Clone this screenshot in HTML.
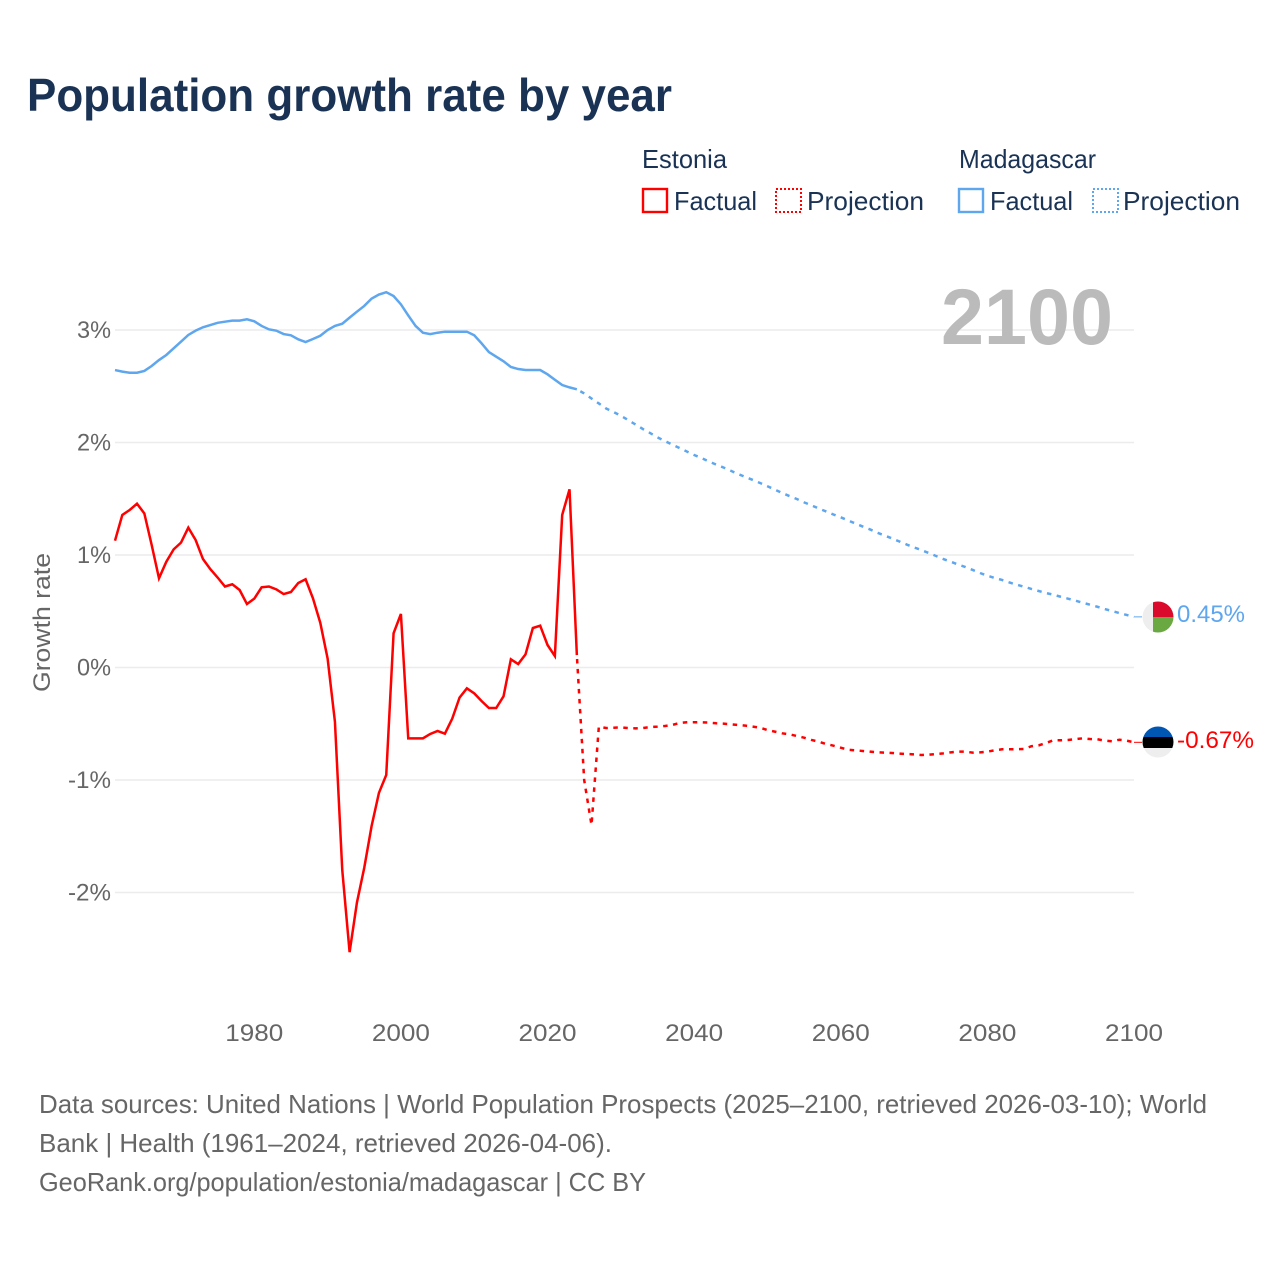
<!DOCTYPE html>
<html lang="en">
<head>
<meta charset="utf-8">
<title>Population growth rate by year</title>
<style>
html,body{margin:0;padding:0;background:#fff;}
svg{display:block;font-family:"Liberation Sans",sans-serif;}
</style>
</head>
<body>
<svg id="chart" xmlns="http://www.w3.org/2000/svg" width="1280" height="1280" viewBox="0 0 1280 1280">
  <defs>
    <clipPath id="flag-clip-mg"><circle cx="1158" cy="617" r="15.5"/></clipPath>
    <clipPath id="flag-clip-ee"><circle cx="1158" cy="742" r="15.5"/></clipPath>
  </defs>
  <rect x="0" y="0" width="1280" height="1280" fill="#fff"/>
  <text x="27" y="111" font-size="46" font-weight="700" fill="#1a3355" textLength="645" lengthAdjust="spacingAndGlyphs">Population growth rate by year</text>

  <g font-size="26" fill="#1a3355">
    <text x="642" y="168" textLength="85" lengthAdjust="spacingAndGlyphs">Estonia</text>
    <rect x="643" y="189" width="24" height="23" fill="none" stroke="#ff0000" stroke-width="2.4"/>
    <text x="674" y="210" textLength="83" lengthAdjust="spacingAndGlyphs">Factual</text>
    <rect x="776" y="189" width="25" height="23" fill="none" stroke="#ff0000" stroke-width="2" stroke-dasharray="2 2"/>
    <text x="807" y="210" textLength="117" lengthAdjust="spacingAndGlyphs">Projection</text>
    <text x="959" y="168" textLength="137" lengthAdjust="spacingAndGlyphs">Madagascar</text>
    <rect x="959" y="189" width="24" height="23" fill="none" stroke="#5ea6ee" stroke-width="2.4"/>
    <text x="990" y="210" textLength="83" lengthAdjust="spacingAndGlyphs">Factual</text>
    <rect x="1093" y="189" width="25" height="23" fill="none" stroke="#5ea6ee" stroke-width="2" stroke-dasharray="2 2"/>
    <text x="1123" y="210" textLength="117" lengthAdjust="spacingAndGlyphs">Projection</text>
  </g>

  <g id="grid"></g>
  <g id="y-ticks" font-size="24" fill="#666" text-anchor="end"></g>
  <g id="x-ticks" font-size="24" fill="#666" text-anchor="middle"></g>

  <text transform="translate(50,692) rotate(-90)" font-size="24" fill="#666" textLength="139" lengthAdjust="spacingAndGlyphs">Growth rate</text>

  <text x="941" y="344" font-size="79" font-weight="700" fill="#bbbbbb" textLength="172" lengthAdjust="spacingAndGlyphs">2100</text>

  <g id="series"></g>

  <g clip-path="url(#flag-clip-mg)">
    <rect x="1142" y="601" width="16" height="32" fill="#eeeeee"/>
    <rect x="1153" y="601" width="21" height="16" fill="#d90a2c"/>
    <rect x="1153" y="617" width="21" height="16" fill="#6aa842"/>
  </g>
  <g clip-path="url(#flag-clip-ee)">
    <rect x="1142" y="726" width="32" height="11" fill="#0056b3"/>
    <rect x="1142" y="737" width="32" height="11" fill="#000000"/>
    <rect x="1142" y="748" width="32" height="11" fill="#eeeeee"/>
  </g>

  <text x="1177" y="622" font-size="24" fill="#5ea6ee" textLength="68" lengthAdjust="spacingAndGlyphs">0.45%</text>
  <text x="1177" y="748" font-size="24" fill="#ff0000" textLength="77" lengthAdjust="spacingAndGlyphs">-0.67%</text>

  <g font-size="26" fill="#666">
    <text x="39" y="1113" textLength="1168" lengthAdjust="spacingAndGlyphs">Data sources: United Nations | World Population Prospects (2025–2100, retrieved 2026-03-10); World</text>
    <text x="39" y="1152" textLength="573" lengthAdjust="spacingAndGlyphs">Bank | Health (1961–2024, retrieved 2026-04-06).</text>
    <text x="39" y="1191" textLength="607" lengthAdjust="spacingAndGlyphs">GeoRank.org/population/estonia/madagascar | CC BY</text>
  </g>
</svg>

<script>
const yTickValues = [3, 2, 1, 0, -1, -2];
const yTickLabels = ["3%", "2%", "1%", "0%", "-1%", "-2%"];
const xTickYears = [1980, 2000, 2020, 2040, 2060, 2080, 2100];
const xTickLabels = ["1980", "2000", "2020", "2040", "2060", "2080", "2100"];

const factualStartYear = 1961;
const projectionStartYear = 2024;

const estoniaFactual = [
  1.127, 1.356, 1.40, 1.456, 1.37, 1.09, 0.793, 0.94, 1.05, 1.11,
  1.243, 1.133, 0.964, 0.875, 0.80, 0.72, 0.74, 0.689, 0.564, 0.612,
  0.713, 0.72, 0.695, 0.653, 0.671, 0.751, 0.784, 0.615, 0.398, 0.08,
  -0.482, -1.8, -2.53, -2.09, -1.78, -1.41, -1.115, -0.955, 0.304, 0.476,
  -0.63, -0.63, -0.63, -0.591, -0.564, -0.588, -0.455, -0.268, -0.185, -0.23,
  -0.298, -0.36, -0.36, -0.256, 0.073, 0.031, 0.117, 0.351, 0.372, 0.2,
  0.102, 1.356, 1.584, 0.111
];
const estoniaProjection = [
  0.111, -1.0, -1.4, -0.526, -0.538, -0.535, -0.532, -0.538, -0.541, -0.538,
  -0.529, -0.526, -0.52, -0.511, -0.493, -0.487, -0.487, -0.487, -0.49, -0.496,
  -0.499, -0.505, -0.511, -0.517, -0.526, -0.535, -0.556, -0.57, -0.585, -0.594,
  -0.609, -0.624, -0.644, -0.659, -0.68, -0.695, -0.713, -0.731, -0.736, -0.742,
  -0.748, -0.754, -0.757, -0.76, -0.766, -0.769, -0.772, -0.778, -0.775, -0.769,
  -0.763, -0.754, -0.748, -0.748, -0.757, -0.754, -0.748, -0.736, -0.727, -0.727,
  -0.727, -0.724, -0.70, -0.692, -0.671, -0.647, -0.647, -0.644, -0.636, -0.63,
  -0.636, -0.638, -0.65, -0.656, -0.642, -0.65, -0.665
];
const madagascarFactual = [
  2.644, 2.63, 2.62, 2.62, 2.636, 2.68, 2.733, 2.778, 2.837, 2.896,
  2.956, 2.994, 3.024, 3.044, 3.064, 3.074, 3.083, 3.083, 3.095, 3.077,
  3.036, 3.006, 2.994, 2.964, 2.953, 2.917, 2.893, 2.92, 2.949, 3.0,
  3.036, 3.056, 3.11, 3.163, 3.214, 3.279, 3.315, 3.336, 3.302, 3.228,
  3.13, 3.036, 2.976, 2.964, 2.976, 2.985, 2.985, 2.985, 2.985, 2.953,
  2.882, 2.804, 2.763, 2.722, 2.671, 2.653, 2.644, 2.644, 2.644, 2.606,
  2.558, 2.511, 2.49, 2.473
];
const madagascarProjection = [
  2.473, 2.436, 2.391, 2.347, 2.302, 2.271, 2.238, 2.20, 2.16, 2.12,
  2.084, 2.046, 2.013, 1.982, 1.951, 1.92, 1.889, 1.862, 1.831, 1.804,
  1.778, 1.749, 1.72, 1.693, 1.667, 1.64, 1.611, 1.582, 1.551, 1.524,
  1.498, 1.468, 1.442, 1.413, 1.387, 1.36, 1.335, 1.307, 1.28, 1.253,
  1.227, 1.198, 1.173, 1.147, 1.12, 1.093, 1.068, 1.043, 1.018, 0.991,
  0.964, 0.94, 0.916, 0.893, 0.867, 0.84, 0.816, 0.796, 0.778, 0.756,
  0.736, 0.718, 0.698, 0.68, 0.662, 0.647, 0.629, 0.612, 0.594, 0.576,
  0.558, 0.54, 0.52, 0.502, 0.484, 0.467, 0.45
];

const SVG_NS = "http://www.w3.org/2000/svg";
function xScale(year) { return 115 + (year - 1961) * (1019 / 139); }
function yScale(value) { return 667.5 - value * 112.5; }

function buildPath(values, startYear) {
  return values.map(function (v, i) {
    return (i ? "L" : "M") + xScale(startYear + i).toFixed(2) + " " + yScale(v).toFixed(2);
  }).join(" ");
}

const gridGroup = document.getElementById("grid");


const yTickGroup = document.getElementById("y-ticks");


const xTickGroup = document.getElementById("x-ticks");


const seriesGroup = document.getElementById("series");



yTickValues.forEach(function (v, i) {
  const line = document.createElementNS(SVG_NS, "line");
  line.setAttribute("x1", xScale(1961));
  line.setAttribute("x2", xScale(2100));
  line.setAttribute("y1", yScale(v));
  line.setAttribute("y2", yScale(v));
  line.setAttribute("stroke", "#ececec");
  line.setAttribute("stroke-width", "1.5");
  
  
  gridGroup.appendChild(line);

  const label = document.createElementNS(SVG_NS, "text");
  label.setAttribute("x", 111);
  label.setAttribute("y", yScale(v) + 8);
  label.setAttribute("textLength", yTickLabels[i].length === 2 ? 34 : 43);
  label.setAttribute("lengthAdjust", "spacingAndGlyphs");
  label.textContent = yTickLabels[i];
  
  
  yTickGroup.appendChild(label);
});

xTickYears.forEach(function (year, i) {
  const label = document.createElementNS(SVG_NS, "text");
  label.setAttribute("x", xScale(year));
  label.setAttribute("y", 1041);
  label.setAttribute("textLength", 58);
  label.setAttribute("lengthAdjust", "spacingAndGlyphs");
  label.textContent = xTickLabels[i];
  
  
  xTickGroup.appendChild(label);
});

function drawFactual(values, color) {
  const path = document.createElementNS(SVG_NS, "path");
  path.setAttribute("d", buildPath(values, factualStartYear));
  path.setAttribute("fill", "none");
  path.setAttribute("stroke", color);
  path.setAttribute("stroke-width", "2.5");
  path.setAttribute("stroke-linejoin", "miter");
  
  
  seriesGroup.appendChild(path);
}

function drawProjection(values, color) {
  const path = document.createElementNS(SVG_NS, "path");
  path.setAttribute("d", buildPath(values, projectionStartYear));
  path.setAttribute("fill", "none");
  path.setAttribute("stroke", color);
  path.setAttribute("stroke-width", "2.5");
  path.setAttribute("stroke-dasharray", "4.5 5.5");
  path.setAttribute("stroke-dashoffset", "-4");
  
  
  seriesGroup.appendChild(path);

  const connector = document.createElementNS(SVG_NS, "line");
  const last = values[values.length - 1];
  connector.setAttribute("x1", xScale(2100));
  connector.setAttribute("x2", xScale(2100) + 8);
  connector.setAttribute("y1", yScale(last));
  connector.setAttribute("y2", yScale(last));
  connector.setAttribute("stroke", color);
  connector.setAttribute("stroke-width", "1");
  
  
  seriesGroup.appendChild(connector);
}

drawFactual(madagascarFactual, "#5ea6ee");
drawProjection(madagascarProjection, "#5ea6ee");
drawFactual(estoniaFactual, "#ff0000");
drawProjection(estoniaProjection, "#ff0000");
</script>
</body>
</html>
